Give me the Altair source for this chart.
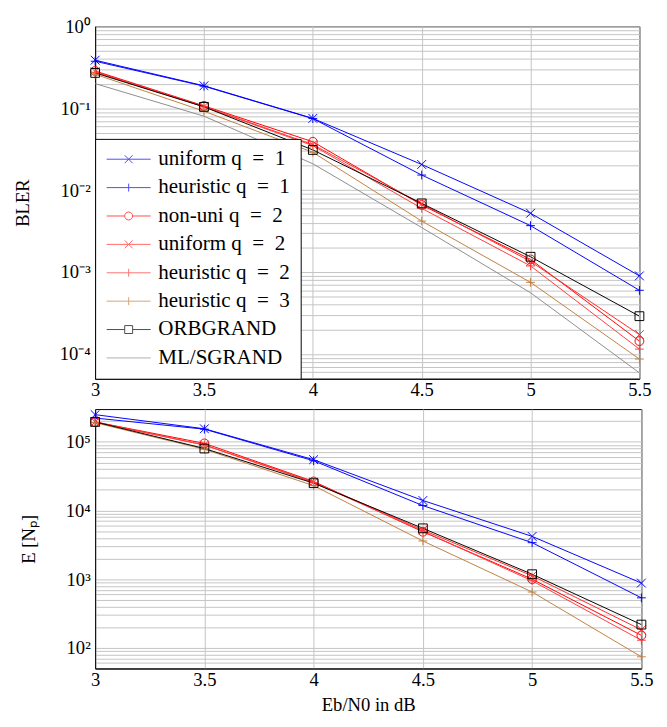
import altair as alt
import pandas as pd

# ---------------- data ----------------
EBN0 = [3.0, 3.5, 4.0, 4.5, 5.0, 5.5]

SERIES = ["uniform q = 1", "heuristic q = 1", "non-uni q = 2", "uniform q = 2",
          "heuristic q = 2", "heuristic q = 3", "ORBGRAND", "ML/SGRAND"]
LABELS = ["uniform q\u2002=\u20021", "heuristic q\u2002=\u20021", "non-uni q\u2002=\u20022",
          "uniform q\u2002=\u20022", "heuristic q\u2002=\u20022", "heuristic q\u2002=\u20023",
          "ORBGRAND", "ML/SGRAND"]
COLORS = ["#0000ff", "#0000ff", "#ff0000", "#ff2a2a", "#ff3b3b", "#bf8040", "#000000", "#8c8c8c"]
MARKERS = ["x", "plus", "circle", "x", "plus", "plus", "square", "none"]

# BLER
bler_uniform_q1 = [0.386, 0.188, 0.0752, 0.0206, 0.00523, 0.00090]
bler_heur_q1 = [0.375, 0.186, 0.0748, 0.0153, 0.00369, 0.00060]
bler_nonuni_q2 = [0.285, 0.107, 0.039, 0.0066, 0.00143, 0.000144]
bler_uniform_q2 = [0.280, 0.105, 0.036, 0.0068, 0.00135, 0.000173]
bler_heur_q2 = [0.275, 0.104, 0.035, 0.0060, 0.00119, 0.000115]
bler_heur_q3 = [0.260, 0.092, 0.029, 0.0042, 0.00075, 0.000087]
bler_orbgrand = [0.270, 0.104, 0.031, 0.0069, 0.00154, 0.00029]
bler_ml = [0.200, 0.080, 0.021, 0.0035, 0.00056, 0.000059]

# E[Np]
np_uniform_q1 = [2.49e5, 1.55e5, 5.5e4, 1.40e4, 4.2e3, 877]
np_heur_q1 = [2.22e5, 1.53e5, 5.3e4, 1.18e4, 3.4e3, 535]
np_nonuni_q2 = [1.95e5, 9.5e4, 2.65e4, 4.9e3, 1.0e3, 152]
np_uniform_q2 = [1.95e5, 9.0e4, 2.6e4, 5.2e3, 1.12e3, 183]
np_heur_q2 = [1.93e5, 9.0e4, 2.55e4, 5.0e3, 946, 129]
np_heur_q3 = [1.90e5, 7.8e4, 2.3e4, 3.6e3, 650, 74]
np_orbgrand = [1.95e5, 8.0e4, 2.5e4, 5.5e3, 1.18e3, 218]

BLER = [bler_uniform_q1, bler_heur_q1, bler_nonuni_q2, bler_uniform_q2,
        bler_heur_q2, bler_heur_q3, bler_orbgrand, bler_ml]
NP = [np_uniform_q1, np_heur_q1, np_nonuni_q2, np_uniform_q2,
      np_heur_q2, np_heur_q3, np_orbgrand]

FONT = "Liberation Serif"
LEG_FONT_SIZE = 21.5

# marker shapes (data points)
MARK_PATH = {
    "x": "M-1,-1L1,1M-1,1L1,-1",
    "plus": "M-1,0L1,0M0,-1L0,1",
    "circle": "circle",
    "square": "square",
    "none": "M0,0",
}
# legend shapes: line from -1 to 4 units, marker centred at 1.5 (unit = 9 px)
c = 1.5
s = 0.45
LEG_PATH = {
    "x": f"M-1,0L4,0M{c-s},-{s}L{c+s},{s}M{c-s},{s}L{c+s},-{s}",
    "plus": f"M-1,0L4,0M{c},-{s}L{c},{s}",
    "circle": f"M-1,0L{c-s},0M{c+s},0L4,0M{c-s},0A{s},{s} 0 1,0 {c+s},0A{s},{s} 0 1,0 {c-s},0",
    "square": f"M-1,0L{c-s},0M{c+s},0L4,0M{c-s},-{s}L{c+s},-{s}L{c+s},{s}L{c-s},{s}Z",
    "none": "M-1,0L4,0",
}


def long_df(values_list):
    rows = []
    for i, vals in enumerate(values_list):
        for x, v in zip(EBN0, vals):
            rows.append({"x": x, "y": v, "series": LABELS[i], "order": i, "marker": MARKERS[i]})
    return pd.DataFrame(rows)


SUP = str.maketrans("-0123456789", "⁻⁰¹²³⁴⁵⁶⁷⁸⁹")


def log_axis_values(emin, emax, lo, hi):
    vals = []
    for e in range(emin, emax + 1):
        for k in range(1, 10):
            v = k * 10.0 ** e
            if (lo < v < hi) or (k == 1 and lo <= v <= hi):
                vals.append(v)
    expr = " : ".join(
        f"datum.value == {10.0 ** e!r} ? '10{str(e).translate(SUP)}'"
        for e in range(emin, emax + 1)
    ) + " : ''"
    return vals, expr


def make_legend():
    return alt.Legend(title=None, orient="bottom-left", offset=0,
                      fillColor="white", strokeColor="black",
                      padding=10, symbolSize=324, symbolStrokeWidth=1,
                      symbolFillColor="transparent",
                      labelFont=FONT, labelFontSize=LEG_FONT_SIZE, labelOffset=33,
                      rowPadding=6, labelLimit=300)


def panel(values_list, ylo, yhi, emin, emax, ytitle, width, height, show_legend, xtitle):
    n = len(values_list)
    df = long_df(values_list)
    dom = LABELS[:n]
    cols = COLORS[:n]
    yvals, yexpr = log_axis_values(emin, emax, ylo, yhi)

    x = alt.X("x:Q", scale=alt.Scale(domain=[3, 5.5], nice=False, zero=False),
              axis=alt.Axis(values=EBN0, format="~g", title=xtitle, grid=True, ticks=False,
                            labelPadding=2, titlePadding=7, labelFlush=False))
    y = alt.Y("y:Q", scale=alt.Scale(type="log", domain=[ylo, yhi], nice=False),
              axis=alt.Axis(values=yvals, labelExpr=yexpr, title=ytitle, grid=True, ticks=False,
                            labelOverlap=False, labelPadding=5, titlePadding=27, labelFlush=False))

    color_nolegend = alt.Color("series:N", scale=alt.Scale(domain=dom, range=cols), legend=None)

    lines = alt.Chart(df).mark_line(strokeWidth=1, clip=True).encode(
        x=x, y=y, color=color_nolegend, detail="series:N", order="x:Q")

    pts = alt.Chart(df).transform_filter("datum.marker != 'none'").mark_point(
        filled=False, size=81, strokeWidth=1, opacity=1).encode(
        x=x, y=y, color=color_nolegend,
        shape=alt.Shape("series:N", scale=alt.Scale(domain=dom, range=[MARK_PATH[m] for m in MARKERS[:n]]),
                        legend=None))

    layers = [lines, pts]
    if show_legend:
        leg = alt.Chart(df).transform_filter("false").mark_point(filled=False).encode(
            x=x, y=y,
            color=alt.Color("series:N", scale=alt.Scale(domain=dom, range=cols), legend=make_legend()),
            shape=alt.Shape("series:N", scale=alt.Scale(domain=dom, range=[LEG_PATH[m] for m in MARKERS[:n]]),
                            legend=make_legend()))
        layers.append(leg)

    ch = alt.layer(*layers).properties(width=width, height=height)
    ch = ch.resolve_scale(shape="independent", color="independent")
    return ch


top = panel(BLER, 5e-5, 1.0, -5, 0, "BLER", 556, 360, True, None)
bottom = panel(NP, 50, 3e5, 1, 5, "E [Nₚ]", 558, 265, False, "Eb/N0 in dB")

chart = alt.ConcatChart(concat=[top, bottom], columns=1, align="none", spacing=7,
                        padding={"top": 1, "left": 5, "right": 5, "bottom": 2}).resolve_scale(
    x="independent", y="independent", color="independent", shape="independent"
).configure_view(stroke="black", strokeWidth=1).configure_axis(
    labelFont=FONT, titleFont=FONT, labelFontSize=19, titleFontSize=19,
    labelColor="black", titleColor="black", titleFontWeight="normal",
    gridColor="#c4c4c4", gridWidth=1, domainColor="black", domainWidth=1
).configure_legend(labelFont=FONT, labelFontSize=LEG_FONT_SIZE, labelColor="black")

chart.save("out.html", embed_options={"renderer": "svg", "actions": False})
